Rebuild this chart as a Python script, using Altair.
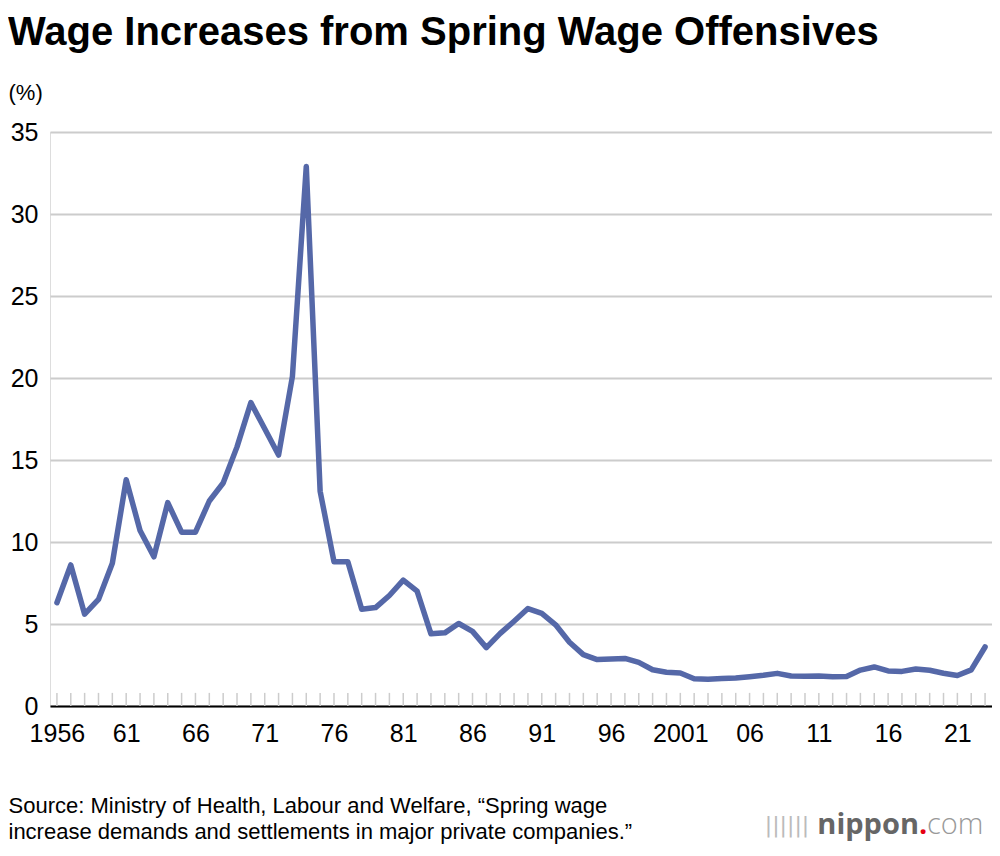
import altair as alt
import pandas as pd

years = list(range(1956, 2024))
rates = [6.3, 8.6, 5.6, 6.5, 8.7, 13.8, 10.7, 9.1, 12.4, 10.6,
         10.6, 12.5, 13.6, 15.8, 18.5, 16.9, 15.3, 20.1, 32.9, 13.1,
         8.8, 8.8, 5.9, 6.0, 6.74, 7.68, 7.01, 4.40, 4.46, 5.03,
         4.55, 3.56, 4.43, 5.17, 5.94, 5.65, 4.95, 3.89, 3.13, 2.83,
         2.86, 2.90, 2.66, 2.21, 2.06, 2.01, 1.66, 1.63, 1.67, 1.71,
         1.79, 1.87, 1.99, 1.83, 1.82, 1.83, 1.78, 1.80, 2.19, 2.38,
         2.14, 2.11, 2.26, 2.18, 2.00, 1.86, 2.20, 3.60]
label_years = [1956, 1961, 1966, 1971, 1976, 1981, 1986, 1991, 1996, 2001, 2006, 2011, 2016, 2021]
y_ticks = [0, 5, 10, 15, 20, 25, 30, 35]
title_text = "Wage Increases from Spring Wage Offensives"
unit_text = "(%)"
source_lines = ["Source: Ministry of Health, Labour and Welfare, \u201cSpring wage",
                "increase demands and settlements in major private companies.\u201d"]

df = pd.DataFrame({"year": years, "rate": rates})
tick_df = pd.DataFrame({"year": years, "y0": [0] * len(years), "y1": [0.8] * len(years)})

FONT = "Liberation Sans"

x_scale = alt.Scale(domain=[1955.5, 2023.5], nice=False, zero=False)
y_scale = alt.Scale(domain=[0, 35], nice=False)

line = alt.Chart(df).mark_line(color="#5568a8", strokeWidth=5.5, strokeJoin="round", strokeCap="round").encode(
    x=alt.X("year:Q", scale=x_scale,
            axis=alt.Axis(values=label_years, ticks=False, grid=False,
                          domainColor="#000", domainWidth=2,
                          labelExpr="(datum.value == 1956 || datum.value == 2001) ? '' + datum.value : slice(toString(datum.value), 2)",
                          labelFont=FONT, labelFontSize=25, labelColor="#000", labelPadding=15,
                          labelFlush=False, labelOverlap=False,
                          title=source_lines, titleFont=FONT, titleFontSize=22, titleFontWeight="normal",
                          titleColor="#000", titleX=-42, titleY=89, titleAlign="left", titleAnchor="start",
                          titleBaseline="top", titleLineHeight=26)),
    y=alt.Y("rate:Q", scale=y_scale,
            axis=alt.Axis(values=y_ticks, ticks=False, domain=False, grid=True,
                          gridColor="#cccccc", gridWidth=2,
                          labelFont=FONT, labelFontSize=25, labelColor="#000", labelPadding=12,
                          title=unit_text, titleAngle=0, titleX=-42, titleY=-40, titleAlign="left",
                          titleBaseline="middle", titleFont=FONT, titleFontSize=22,
                          titleFontWeight="normal", titleColor="#000")),
)

minor = alt.Chart(tick_df).mark_rule(color="#cccccc", strokeWidth=1.5).encode(
    x=alt.X("year:Q", scale=x_scale),
    y=alt.Y("y0:Q", scale=y_scale),
    y2="y1:Q",
)

one = pd.DataFrame({"a": [1]})
logo_n = alt.Chart(one).mark_text(font="Open Sans", fontWeight="bold", fontSize=29, color="#666666",
                                  align="right", baseline="alphabetic").encode(
    x=alt.value(869), y=alt.value(702), text=alt.value("nippon"))
logo_dot = alt.Chart(one).mark_text(font="Open Sans", fontWeight="bold", fontSize=29, color="#e60012",
                                    align="left", baseline="alphabetic").encode(
    x=alt.value(869), y=alt.value(702), text=alt.value("."))
logo_com = alt.Chart(one).mark_text(font="Open Sans", fontWeight=300, fontSize=29, color="#999999",
                                    align="left", baseline="alphabetic").encode(
    x=alt.value(877), y=alt.value(702), text=alt.value("com"))
logo_icon = alt.Chart(one).mark_text(font="DejaVu Sans", fontSize=22, color="#bbbbbb",
                                     align="center", baseline="alphabetic").encode(
    x=alt.value(737), y=alt.value(700), text=alt.value("||||||"))

chart = alt.layer(minor, line, logo_icon, logo_n, logo_dot, logo_com).properties(
    width=942, height=574,
    autosize=alt.AutoSizeParams(type="none"),
    padding={"left": 42, "top": 124, "right": 0, "bottom": 140},
    title=alt.TitleParams(title_text, anchor="start", frame="group", dx=-42, offset=28,
                          font=FONT, fontSize=40, fontWeight="bold", color="#000"),
).configure_view(stroke=None).configure(background="#ffffff")

chart.save("out.html", embed_options={"renderer": "svg", "actions": False})
